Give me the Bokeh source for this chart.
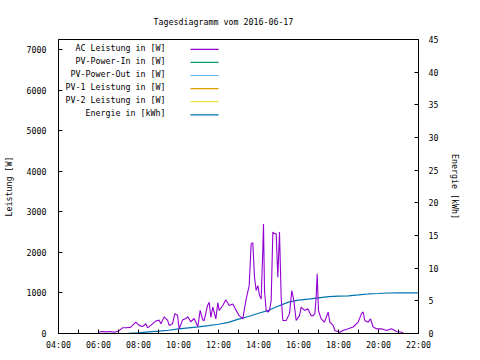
from bokeh.plotting import figure
from bokeh.models import Range1d, LinearAxis, FixedTicker, Label, BoxAnnotation, Title
from bokeh.embed import file_html
from bokeh.resources import INLINE

title_text = "Tagesdiagramm vom 2016-06-17"
x_tick_labels = ["04:00", "06:00", "08:00", "10:00", "12:00", "14:00", "16:00", "18:00", "20:00", "22:00"]
x_minor_labels = ["05:00", "07:00", "09:00", "11:00", "13:00", "15:00", "17:00", "19:00", "21:00"]
y_ticks = [0, 1000, 2000, 3000, 4000, 5000, 6000, 7000]
y2_ticks = [0, 5, 10, 15, 20, 25, 30, 35, 40, 45]
y_max = 7250
y2_max = 45

ac_time = ["06:00","06:12","06:24","06:36","06:48","07:00","07:12","07:22","07:36","07:52",
           "08:02","08:12","08:22","08:27","08:37","08:52","09:02","09:07","09:17","09:27",
           "09:32","09:42","09:49","09:57","10:02","10:12","10:22","10:28","10:37","10:47",
           "10:58","11:05","11:13","11:17","11:27","11:32","11:37","11:43","11:52","11:58",
           "12:02","12:13","12:22","12:32","12:43","12:53","13:02","13:13","13:17","13:23",
           "13:32","13:38","13:43","13:48","13:53","13:58","14:03","14:08","14:13","14:15",
           "14:18","14:23","14:28","14:33","14:38","14:43","14:48","14:53","14:58","15:03",
           "15:08","15:13","15:23","15:33","15:40","15:46","15:53","16:03","16:08","16:18",
           "16:28","16:38","16:44","16:49","16:53","16:56","17:00","17:08","17:18","17:29",
           "17:34","17:44","17:49","18:04","18:13","18:29","18:44","18:59","19:09","19:14",
           "19:19","19:29","19:36","19:44","19:54","20:09","20:24","20:39","20:54","21:10","21:15"]
ac_watt = [30, 50, 40, 50, 30, 60, 140, 140, 150, 280,
           200, 170, 240, 140, 200, 310, 330, 240, 410, 330,
           200, 240, 490, 450, 110, 330, 370, 410, 290, 370,
           170, 570, 330, 320, 690, 770, 400, 650, 360, 760,
           570, 690, 830, 690, 730, 570, 440, 360, 570, 850,
           1180, 2210, 2240, 1390, 1060, 1180, 940, 850, 2090, 2700,
           1060, 570, 530, 570, 810, 2500, 2460, 2460, 1390, 2500,
           900, 320, 320, 490, 1060, 810, 320, 440, 650, 570,
           610, 440, 440, 490, 900, 1470, 560, 360, 280, 530,
           280, 200, 75, 30, 75, 115, 160, 280, 490, 530,
           320, 280, 360, 160, 115, 115, 75, 115, 50, 30, 0]

energy_time = ["07:30","08:00","08:30","09:00","09:30","10:00","10:30","11:00","11:30","12:00",
               "12:30","13:00","13:30","14:00","14:30","15:00","15:30","16:00","16:30","17:00",
               "17:30","18:00","18:30","19:00","19:30","20:00","20:30","21:00","21:30","22:00"]
energy_kwh = [0.02, 0.1, 0.25, 0.35, 0.5, 0.7, 0.85, 1.0, 1.2, 1.42,
              1.7, 2.2, 2.6, 3.1, 3.55, 4.2, 4.8, 5.1, 5.25, 5.45,
              5.65, 5.72, 5.76, 5.9, 6.05, 6.12, 6.2, 6.22, 6.23, 6.23]

legend_labels = ["AC Leistung in [W]", "PV-Power-In in [W]", "PV-Power-Out in [W]",
                 "PV-1 Leistung in [W]", "PV-2 Leistung in [W]", "Energie in [kWh]"]
legend_colors = ["#9400d3", "#009e73", "#56b4e9", "#e69f00", "#f0e442", "#0072b2"]


def hours(s):
    h, m = s.split(":")
    return int(h) + int(m) / 60.0


FONT = "DejaVu Sans Mono"
FS = "8.3px"

W, H = 480, 360
BL, BR, BT, BB = 58, 62, 39, 27
x0, x1 = hours(x_tick_labels[0]), hours(x_tick_labels[-1])

p = figure(width=W, height=H, output_backend="svg", toolbar_location=None,
           x_range=Range1d(x0, x1), y_range=Range1d(0, y_max),
           min_border_left=BL, min_border_right=BR, min_border_top=BT, min_border_bottom=BB,
           background_fill_color="white", border_fill_color="white")
p.title = Title(text=title_text, align="left", offset=95, standoff=26,
                text_font=FONT, text_font_size=FS, text_font_style="normal", text_color="black")
p.grid.visible = False
p.outline_line_color = "black"
p.outline_line_alpha = 1
p.outline_line_width = 1

p.extra_y_ranges = {"energy": Range1d(0, y2_max)}

# x axis
xa = p.xaxis[0]
xa.ticker = FixedTicker(ticks=[hours(t) for t in x_tick_labels],
                        minor_ticks=[hours(t) for t in x_minor_labels])
xa.major_label_overrides = {hours(t): t for t in x_tick_labels}
# y axis
ya = p.yaxis[0]
ya.ticker = FixedTicker(ticks=y_ticks)
ya.axis_label = "Leistung [W]"
y2 = LinearAxis(y_range_name="energy", axis_label="Energie [kWh]", ticker=FixedTicker(ticks=y2_ticks))
p.add_layout(y2, "right")

for ax in [xa, ya, y2]:
    ax.major_label_text_font = FONT
    ax.major_label_text_font_size = FS
    ax.major_label_text_color = "black"
    ax.axis_label_text_font = FONT
    ax.axis_label_text_font_size = FS
    ax.axis_label_text_font_style = "normal"
    ax.axis_label_text_color = "black"
    ax.axis_line_color = "black"
    ax.major_tick_line_color = "black"
    ax.minor_tick_line_color = "black"
    ax.major_tick_out = 0
    ax.major_tick_in = 4
    ax.minor_tick_out = 0
    ax.minor_tick_in = 4
xa.major_label_standoff = 6
ya.major_label_standoff = 12
ya.axis_label_standoff = 10
y2.major_label_standoff = 10
y2.axis_label_standoff = 9
ya.minor_tick_in = 0
y2.minor_tick_in = 0

# data lines
p.line([hours(t) for t in energy_time], energy_kwh, y_range_name="energy",
       line_color=legend_colors[5], line_width=1.2)
p.line([hours(t) for t in ac_time], ac_watt, line_color=legend_colors[0], line_width=1.1)


# legend (gnuplot style: right-aligned text, sample line on the right)
def px_x(fx):
    return x0 + (fx - BL) / (W - BL - BR) * (x1 - x0)


def px_y(fy):
    return (H - BB - fy) / (H - BB - BT) * y_max


for i, (lab, col) in enumerate(zip(legend_labels, legend_colors)):
    fy = 47.2 + i * 13.1
    p.add_layout(Label(x=px_x(165), y=px_y(fy), text=lab, text_align="right",
                       text_baseline="middle", text_font=FONT, text_font_size=FS,
                       text_color="black"))
    p.add_layout(BoxAnnotation(left=px_x(190), right=px_x(218),
                               top=px_y(fy + 1.0), bottom=px_y(fy + 2.2),
                               fill_color=col, fill_alpha=1, line_alpha=0))

open("out.html", "w").write(file_html(p, INLINE))
